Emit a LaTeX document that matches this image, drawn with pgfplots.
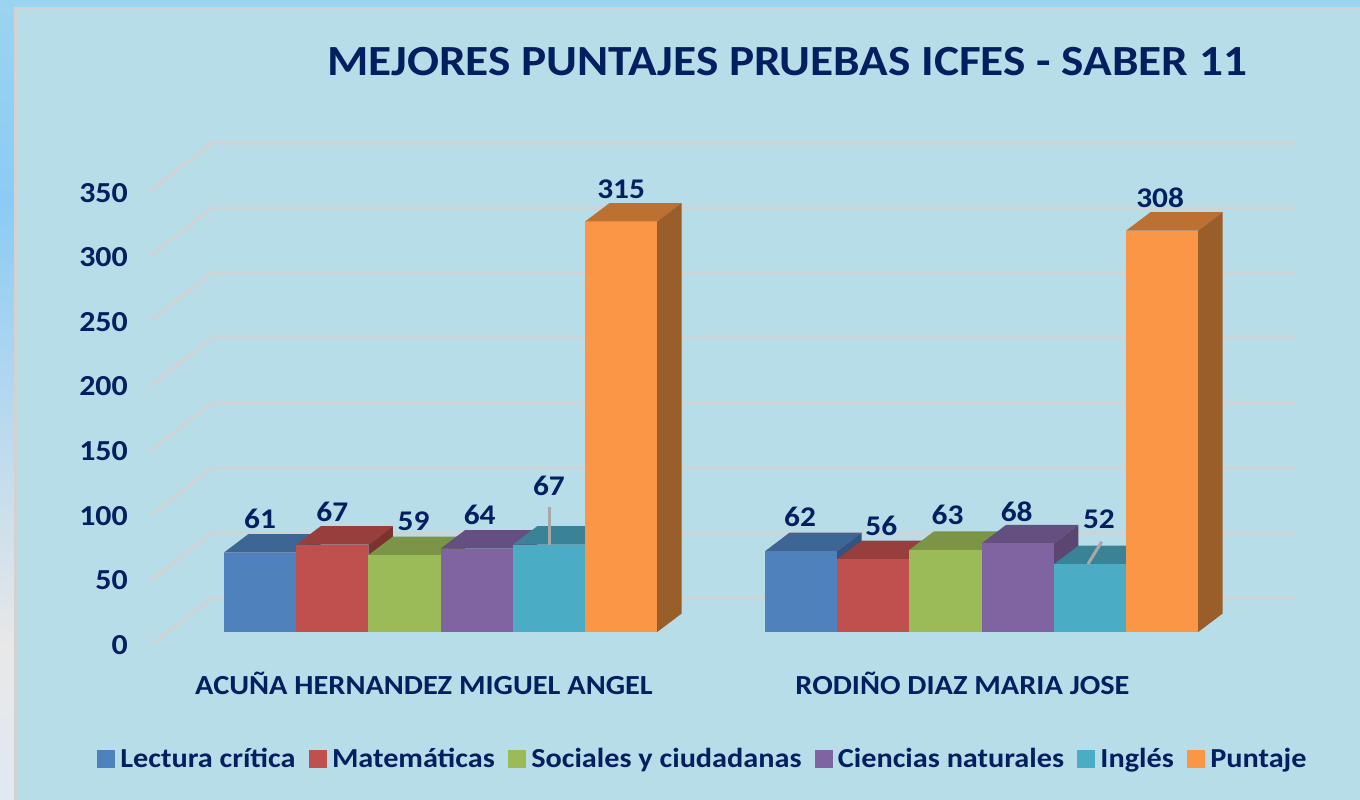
\documentclass[border=0pt]{standalone}
\usepackage{fontspec}
\setmainfont{Carlito}[FakeStretch=1.1]
\usepackage{pgfplots}
\pgfplotsset{compat=1.18}
\definecolor{ink}{HTML}{002060}
\definecolor{grid}{HTML}{D2D2D2}
\definecolor{panel}{HTML}{B7DDE8}
\definecolor{cB}{HTML}{4F81BD}\definecolor{cBt}{HTML}{3E6694}\definecolor{cBs}{HTML}{325480}
\definecolor{cR}{HTML}{C0504D}\definecolor{cRt}{HTML}{983E3C}\definecolor{cRs}{HTML}{7C3330}
\definecolor{cG}{HTML}{9BBB59}\definecolor{cGt}{HTML}{7B9446}\definecolor{cGs}{HTML}{647838}
\definecolor{cP}{HTML}{8064A2}\definecolor{cPt}{HTML}{654F80}\definecolor{cPs}{HTML}{5A4670}
\definecolor{cT}{HTML}{4BACC6}\definecolor{cTt}{HTML}{3A8296}\definecolor{cTs}{HTML}{2E6B7C}
\definecolor{cO}{HTML}{FA9646}\definecolor{cOt}{HTML}{BC7032}\definecolor{cOs}{HTML}{9A5E2B}
\pgfplotsset{
  poly/.style={forget plot,draw=none,fill=#1},
  gl/.style={forget plot,draw=grid,line width=2.7pt,no markers},
  front/.style n args={3}{forget plot,ybar,bar width=72.2pt,bar shift=0pt,draw=none,fill=#1,
    nodes near coords,
    every node near coord/.append style={anchor=center,xshift=#2,yshift=#3,text=ink,font=\bfseries\fontsize{28.5}{30}\selectfont}},
}
\begin{document}
\begin{tikzpicture}
\useasboundingbox (0,0) rectangle (1360pt,800pt);
\shade[top color={rgb,255:red,155;green,212;blue,241},bottom color={rgb,255:red,139;green,203;blue,245}] (0,600pt) rectangle (1360pt,800pt);
\shade[top color={rgb,255:red,139;green,203;blue,245},bottom color={rgb,255:red,232;green,232;blue,232}] (0,150pt) rectangle (1360pt,600pt);
\shade[top color={rgb,255:red,232;green,232;blue,232},bottom color={rgb,255:red,224;green,232;blue,244}] (0,0) rectangle (1360pt,150pt);
\fill[grid] (14pt,0) rectangle (1360pt,793pt);
\fill[panel] (17pt,0) rectangle (1360pt,790pt);

\begin{axis}[
  at={(0,0)},anchor=south west,scale only axis,width=1360pt,height=800pt,
  xmin=0,xmax=1360,ymin=-128.93,ymax=485.03,hide axis,clip=false,
  /pgf/number format/assume math mode=true,
  title={MEJORES PUNTAJES PRUEBAS ICFES - SABER 11},
  title style={at={(0.5787,0.9155)},anchor=center,text=ink,font=\bfseries\fontsize{43}{45}\selectfont},
  legend columns=6,
  legend style={at={(axis cs:97,-97.3)},anchor=west,draw=none,fill=none,inner sep=0pt,outer sep=0pt,
    text=ink,font=\bfseries\fontsize{27.5}{29}\selectfont,
    /tikz/every even column/.append style={column sep=13pt},
    /tikz/every odd column/.append style={column sep=6pt},
    nodes={inner sep=0pt}},
  legend image code/.code={\fill[#1] (0,-8.5pt) rectangle (17pt,8.5pt);},
]
\addlegendimage{cB}\addlegendentry{Lectura crítica}
\addlegendimage{cR}\addlegendentry{Matemáticas}
\addlegendimage{cG}\addlegendentry{Sociales y ciudadanas}
\addlegendimage{cP}\addlegendentry{Ciencias naturales}
\addlegendimage{cT}\addlegendentry{Inglés}
\addlegendimage{cO}\addlegendentry{Puntaje}

% gridlines on the side and back walls
\addplot[gl] coordinates {(151,-10)(212,26.1)(1296,26.1)};
\addplot[gl] coordinates {(151,39.9)(212,76)(1296,76)};
\addplot[gl] coordinates {(151,89.8)(212,125.9)(1296,125.9)};
\addplot[gl] coordinates {(151,139.6)(212,175.7)(1296,175.7)};
\addplot[gl] coordinates {(151,189.5)(212,225.6)(1296,225.6)};
\addplot[gl] coordinates {(151,239.4)(212,275.5)(1296,275.5)};
\addplot[gl] coordinates {(151,289.3)(212,325.4)(1296,325.4)};
\addplot[gl] coordinates {(151,339.2)(212,375.3)(1296,375.3)};

% group 1
\addplot[poly=cBt] coordinates {(224,61)(248.5,75.2)(320.7,75.2)(296.2,61)} --cycle;
\addplot[poly=cBs] coordinates {(296.2,0)(320.7,14.2)(320.7,75.2)(296.2,61)} --cycle;
\addplot[front={cB}{0pt}{34pt}] coordinates {(260.1,61)};
\addplot[poly=cRt] coordinates {(296.2,67)(320.7,81.2)(392.9,81.2)(368.4,67)} --cycle;
\addplot[poly=cRs] coordinates {(368.4,0)(392.9,14.2)(392.9,81.2)(368.4,67)} --cycle;
\addplot[front={cR}{0pt}{33pt}] coordinates {(332.3,67)};
\addplot[poly=cGt] coordinates {(368.4,59)(392.9,73.2)(465.1,73.2)(440.6,59)} --cycle;
\addplot[poly=cGs] coordinates {(440.6,0)(465.1,14.2)(465.1,73.2)(440.6,59)} --cycle;
\addplot[front={cG}{9pt}{34pt}] coordinates {(404.5,59)};
\addplot[poly=cPt] coordinates {(440.6,64)(465.1,78.2)(537.3,78.2)(512.8,64)} --cycle;
\addplot[poly=cPs] coordinates {(512.8,0)(537.3,14.2)(537.3,78.2)(512.8,64)} --cycle;
\addplot[front={cP}{3pt}{34pt}] coordinates {(476.7,64)};
\addplot[poly=cTt] coordinates {(512.8,67)(537.3,81.2)(609.5,81.2)(585,67)} --cycle;
\addplot[poly=cTs] coordinates {(585,0)(609.5,14.2)(609.5,81.2)(585,67)} --cycle;
\addplot[front={cT}{0pt}{59pt}] coordinates {(548.9,67)};
\addplot[poly=cOt] coordinates {(585,315)(609.5,329.2)(681.7,329.2)(657.2,315)} --cycle;
\addplot[poly=cOs] coordinates {(657.2,0)(681.7,14.2)(681.7,329.2)(657.2,315)} --cycle;
\addplot[front={cO}{0pt}{32pt}] coordinates {(621.1,315)};

% group 2
\addplot[poly=cBt] coordinates {(765,62)(789.5,76.2)(861.7,76.2)(837.2,62)} --cycle;
\addplot[poly=cBs] coordinates {(837.2,0)(861.7,14.2)(861.7,76.2)(837.2,62)} --cycle;
\addplot[front={cB}{-1pt}{34pt}] coordinates {(801.1,62)};
\addplot[poly=cRt] coordinates {(837.2,56)(861.7,70.2)(933.9,70.2)(909.4,56)} --cycle;
\addplot[poly=cRs] coordinates {(909.4,0)(933.9,14.2)(933.9,70.2)(909.4,56)} --cycle;
\addplot[front={cR}{8pt}{33pt}] coordinates {(873.3,56)};
\addplot[poly=cGt] coordinates {(909.4,63)(933.9,77.2)(1006.1,77.2)(981.6,63)} --cycle;
\addplot[poly=cGs] coordinates {(981.6,0)(1006.1,14.2)(1006.1,77.2)(981.6,63)} --cycle;
\addplot[front={cG}{2pt}{35pt}] coordinates {(945.5,63)};
\addplot[poly=cPt] coordinates {(981.6,68)(1006.1,82.2)(1078.3,82.2)(1053.8,68)} --cycle;
\addplot[poly=cPs] coordinates {(1053.8,0)(1078.3,14.2)(1078.3,82.2)(1053.8,68)} --cycle;
\addplot[front={cP}{-1pt}{32pt}] coordinates {(1017.7,68)};
\addplot[poly=cTt] coordinates {(1053.8,52)(1078.3,66.2)(1150.5,66.2)(1126,52)} --cycle;
\addplot[poly=cTs] coordinates {(1126,0)(1150.5,14.2)(1150.5,66.2)(1126,52)} --cycle;
\addplot[front={cT}{9pt}{45pt}] coordinates {(1089.9,52)};
\addplot[poly=cOt] coordinates {(1126,308)(1150.5,322.2)(1222.7,322.2)(1198.2,308)} --cycle;
\addplot[poly=cOs] coordinates {(1198.2,0)(1222.7,14.2)(1222.7,322.2)(1198.2,308)} --cycle;
\addplot[front={cO}{-2pt}{33pt}] coordinates {(1162.1,308)};

% leader lines
\addplot[forget plot,draw={rgb,255:red,168;green,168;blue,168},line width=3pt,no markers] coordinates {(549,95.9)(549,66.8)};
\addplot[forget plot,draw={rgb,255:red,168;green,168;blue,168},line width=3pt,no markers] coordinates {(1101.7,69.3)(1088,52.2)};
\end{axis}

% labelled axes
\begin{axis}[
  at={(132pt,135pt)},anchor=south west,scale only axis,width=1228pt,height=565pt,
  xmin=132,xmax=1360,ymin=-15.48,ymax=421.8,
  axis line style={draw=none},axis x line*=bottom,axis y line*=left,
  major tick length=0pt,
  ytick={0,50,100,150,200,250,300,350},
  xtick={424,962.5},
  xticklabels={ACUÑA HERNANDEZ MIGUEL ANGEL,RODIÑO DIAZ MARIA JOSE},
  /pgf/number format/assume math mode=true,
  yticklabel style={text=ink,font=\bfseries\fontsize{29}{31}\selectfont,inner sep=0pt,xshift=-4pt},
  xticklabel style={text=ink,font=\bfseries\fontsize{27.6}{29}\selectfont,inner sep=0pt,yshift=-7pt},
]
\end{axis}
\end{tikzpicture}
\end{document}
